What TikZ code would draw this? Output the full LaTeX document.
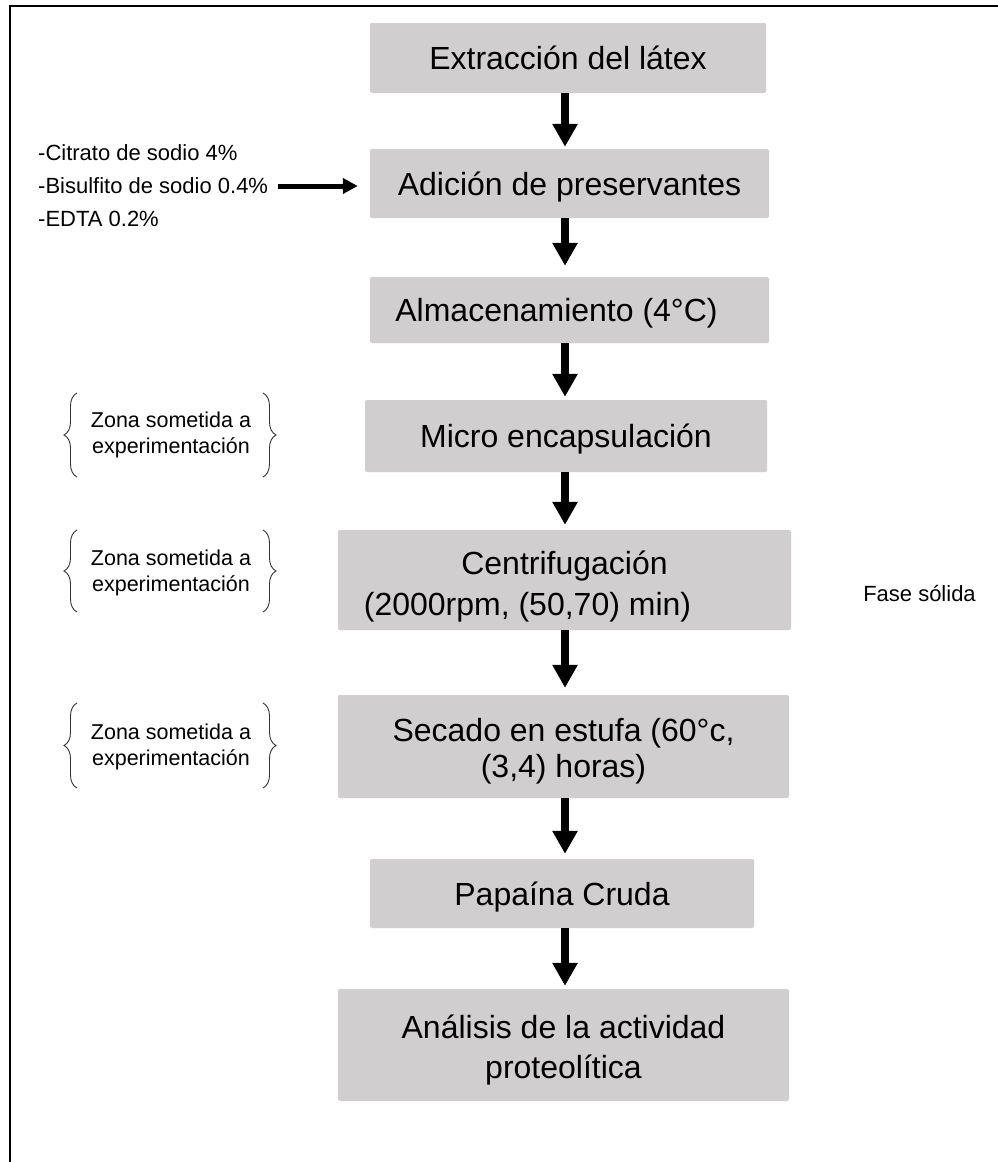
\documentclass[tikz,border=0pt]{standalone}
\usepackage{fontspec}
\setmainfont{Liberation Sans}
\usetikzlibrary{arrows.meta,decorations.pathreplacing}
\definecolor{boxgray}{RGB}{208,206,207}
\begin{document}
\begin{tikzpicture}[x=1pt,y=-1pt,
  stepbox/.style={fill=boxgray, rounded corners=2pt, inner sep=0pt, align=center,
    font=\fontsize{32}{38}\selectfont, text height=23pt, text depth=0pt},
  flow/.style={line width=8pt, -{Triangle[width=24pt,length=23pt]}},
  hflow/.style={line width=5pt, -{Triangle[width=15pt,length=15pt]}},
  side/.style={font=\fontsize{22}{31}\selectfont, anchor=base west, inner sep=0pt},
  zona/.style={font=\fontsize{21.5}{26}\selectfont, align=center, inner sep=0pt},
  curly/.style={decorate, decoration={brace, amplitude=13pt}, line width=0.9pt, black!80}
]
\useasboundingbox (0,0) rectangle (998,1162);
\fill[white] (0,0) rectangle (998,1162);
% outer frame (continues beyond right and bottom edges)
\draw[line width=2pt] (998,6) -- (10,6) -- (10,1162);

% process boxes
\node[stepbox, minimum width=396pt, minimum height=70pt] (b1) at (568,58) {Extracción del látex};
\node[stepbox, minimum width=399pt, minimum height=69pt] (b2) at (569.5,183.5) {Adición de preservantes};
\node[stepbox, minimum width=399pt, minimum height=66pt] (b3) at (569.5,310) {\mbox{Almacenamiento (4°C)\kern26pt}};
\node[stepbox, minimum width=402pt, minimum height=72pt] (b4) at (566,436) {Micro encapsulación};
\node[stepbox, minimum width=453pt, minimum height=100pt, font=\fontsize{32}{41}\selectfont, text height=70pt, text depth=0pt] (b5) at (564.5,580)
  {Centrifugación\\\mbox{(2000rpm, (50,70) min)\kern74pt}};
\node[stepbox, minimum width=451pt, minimum height=103pt, font=\fontsize{32}{36}\selectfont, text height=61pt, text depth=0pt] (b6) at (563.5,746.5)
  {Secado en estufa (60°c,\\(3,4) horas)};
\node[stepbox, minimum width=384pt, minimum height=69pt] (b7) at (562,893.5) {Papaína Cruda};
\node[stepbox, minimum width=451pt, minimum height=112pt, font=\fontsize{32}{40}\selectfont, text height=66pt, text depth=0pt] (b8) at (563.5,1045)
  {Análisis de la actividad\\proteolítica};

% vertical arrows
\coordinate (ax) at (565,0);
\draw[flow, shorten >=2pt]  (b1.south -| ax) -- (b2.north -| ax);
\draw[flow, shorten >=11pt] (b2.south -| ax) -- (b3.north -| ax);
\draw[flow, shorten >=3pt]  (b3.south -| ax) -- (b4.north -| ax);
\draw[flow, shorten >=5pt]  (b4.south -| ax) -- (b5.north -| ax);
\draw[flow, shorten >=7pt]  (b5.south -| ax) -- (b6.north -| ax);
\draw[flow, shorten >=5pt]  (b6.south -| ax) -- (b7.north -| ax);
\draw[flow, shorten >=3pt]  (b7.south -| ax) -- (b8.north -| ax);

% preservatives list
\node[side] (cit) at (38,160) {-Citrato de sodio 4\%};
\node[side] (bis) at (38,193) {-Bisulfito de sodio 0.4\%};
\node[side] (edta) at (38,226) {-EDTA 0.2\%};
\coordinate (hs) at (278,186);
\draw[hflow, shorten >=12pt] (hs) -- (hs -| b2.west);

% experimental zones
\node[zona] (z1) at (171,435) {Zona sometida a\\experimentación};
\draw[curly] (77,477) -- (77,393);
\draw[curly] (263,393) -- (263,477);
\node[zona] (z2) at (171,573) {Zona sometida a\\experimentación};
\draw[curly] (77,612) -- (77,530);
\draw[curly] (263,530) -- (263,612);
\node[zona] (z3) at (171,747) {Zona sometida a\\experimentación};
\draw[curly] (77,788) -- (77,703);
\draw[curly] (263,703) -- (263,788);

% side note
\node[font=\fontsize{22}{26}\selectfont, inner sep=0pt] (fs) at (919.5,593) {Fase sólida};
\end{tikzpicture}
\end{document}
